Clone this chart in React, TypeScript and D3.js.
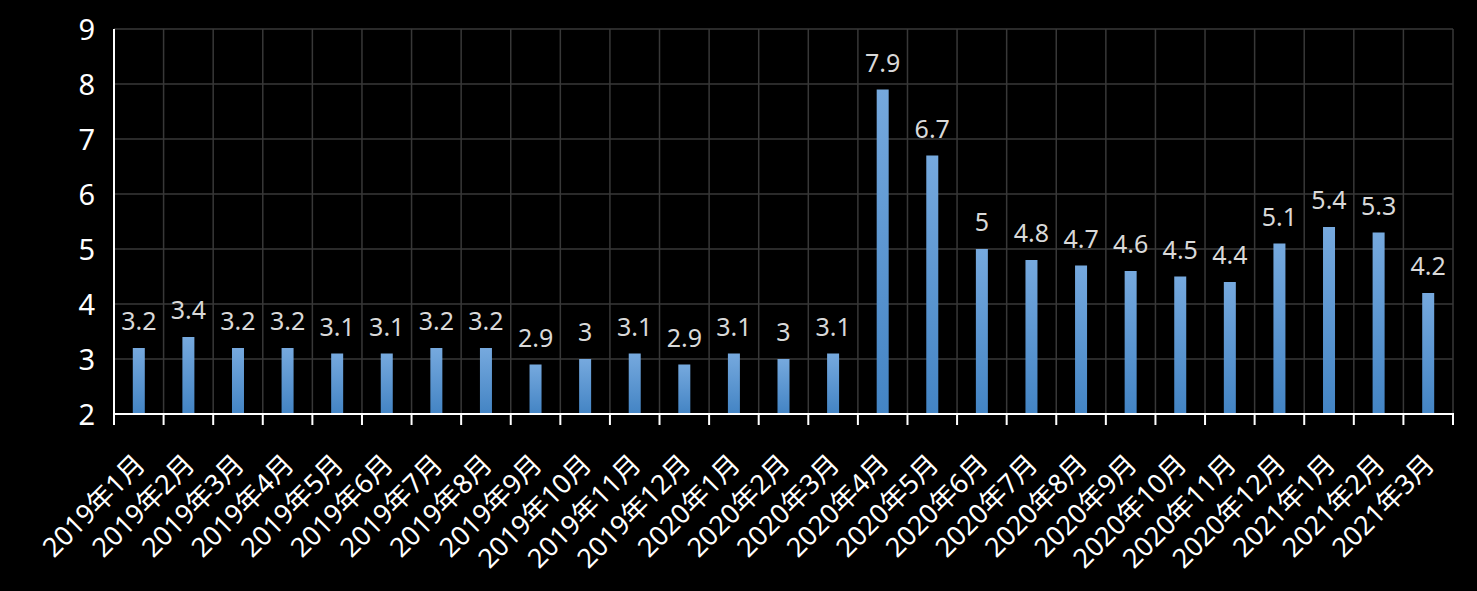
import React from "react";
import * as d3 from "d3";

const categories = [
  "2019年1月","2019年2月","2019年3月","2019年4月","2019年5月","2019年6月","2019年7月","2019年8月","2019年9月","2019年10月","2019年11月","2019年12月",
  "2020年1月","2020年2月","2020年3月","2020年4月","2020年5月","2020年6月","2020年7月","2020年8月","2020年9月","2020年10月","2020年11月","2020年12月",
  "2021年1月","2021年2月","2021年3月",
];
const values = [3.2,3.4,3.2,3.2,3.1,3.1,3.2,3.2,2.9,3,3.1,2.9,3.1,3,3.1,7.9,6.7,5,4.8,4.7,4.6,4.5,4.4,5.1,5.4,5.3,4.2];
const yTicks = [2,3,4,5,6,7,8,9];

const W = 1477, H = 591;
const left = 114, right = 1453, top = 29, bottom = 414;
const FONT = "'Noto Sans', 'Noto Sans CJK SC', sans-serif";

export default function App() {
  const x = d3.scaleBand<string>().domain(categories).range([left, right]).padding(0);
  const y = d3.scaleLinear().domain([2, 9]).range([bottom, top]);
  const bw = 12;
  const bounds = categories.map((c) => x(c) as number).concat([right]);
  return (
    <svg width={W} height={H} style={{ position: "absolute", left: 0, top: 0, background: "#000" }}>
      <defs>
        <linearGradient id="bg" x1="0" y1="0" x2="0" y2="1">
          <stop offset="0" stopColor="#76a9de" />
          <stop offset="1" stopColor="#4384c4" />
        </linearGradient>
      </defs>
      <rect x={0} y={0} width={W} height={H} fill="#000" />
      {yTicks.filter((t) => t > 2).map((t) => (
        <line key={"h" + t} x1={left} x2={right} y1={y(t)} y2={y(t)} stroke="#383838" strokeWidth={1.5} />
      ))}
      {bounds.slice(1).map((b, i) => (
        <line key={"v" + i} x1={b} x2={b} y1={top} y2={bottom} stroke="#383838" strokeWidth={1.5} />
      ))}
      {categories.map((c, i) => {
        const cx = (x(c) as number) + x.bandwidth() / 2;
        return (
          <g key={c}>
            <rect x={cx - bw / 2} y={y(values[i])} width={bw} height={bottom - y(values[i])} fill="url(#bg)" />
            <text x={cx} y={y(values[i]) - 18} textAnchor="middle" fill="#d9d9d9" fontSize={25} fontFamily={FONT}>
              {String(values[i])}
            </text>
          </g>
        );
      })}
      <line x1={left} x2={left} y1={top} y2={bottom + 1} stroke="#fff" strokeWidth={2} />
      <line x1={left - 1} x2={right + 1} y1={bottom} y2={bottom} stroke="#fff" strokeWidth={2} />
      {bounds.map((b, i) => (
        <line key={"t" + i} x1={b} x2={b} y1={bottom} y2={bottom + 11} stroke="#fff" strokeWidth={2} />
      ))}
      {yTicks.map((t) => (
        <text key={"y" + t} x={95} y={y(t) + 11} textAnchor="end" fill="#fff" fontSize={29} fontFamily={FONT}>
          {t}
        </text>
      ))}
      {categories.map((c) => {
        const cx = (x(c) as number) + x.bandwidth() / 2;
        const tx = cx + 8, ty = 466;
        return (
          <text key={"x" + c} x={tx} y={ty} textAnchor="end" fill="#fff" fontSize={27} fontFamily={FONT}
            transform={`rotate(-45 ${tx} ${ty})`}>
            {c}
          </text>
        );
      })}
    </svg>
  );
}
